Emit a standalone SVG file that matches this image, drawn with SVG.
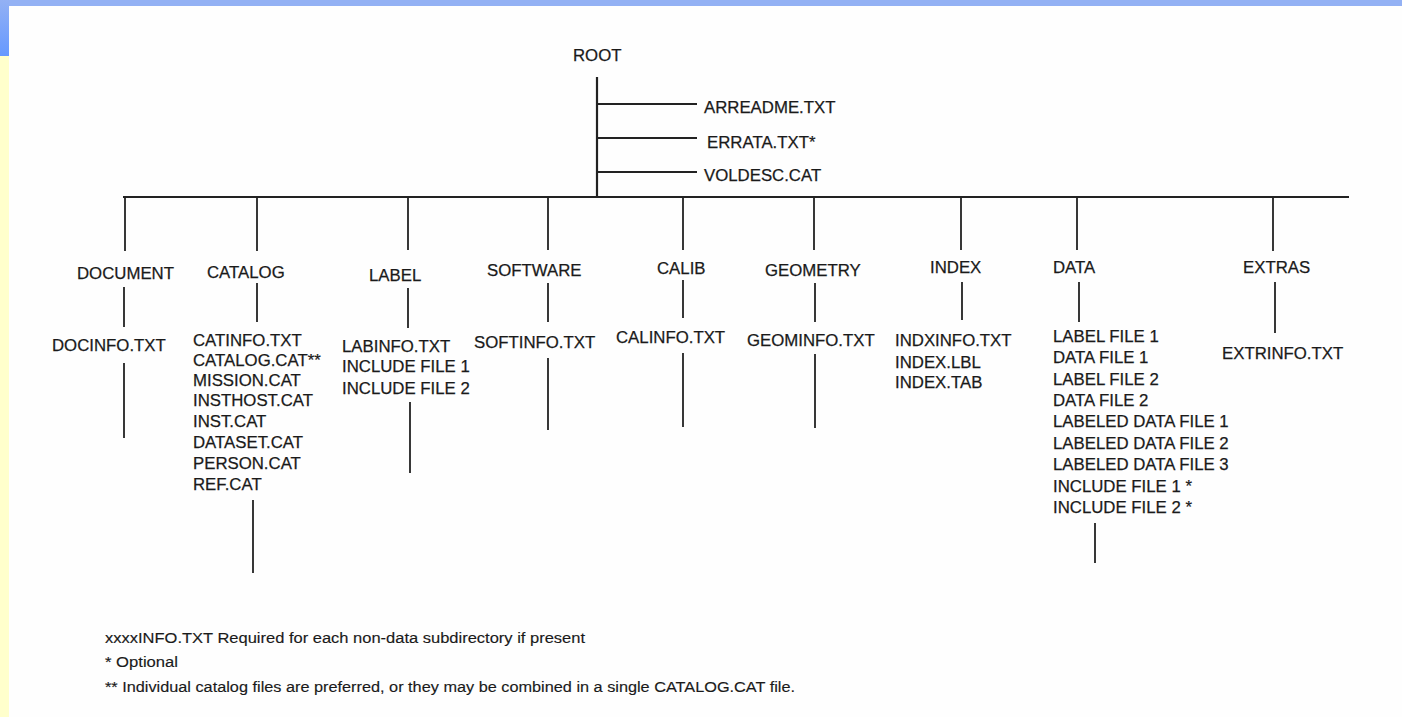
<svg xmlns="http://www.w3.org/2000/svg" width="1402" height="717" viewBox="0 0 1402 717">
<defs>
<linearGradient id="lb" x1="0" y1="0" x2="0" y2="1">
<stop offset="0" stop-color="#93b1f4"/>
<stop offset="1" stop-color="#6699ff"/>
</linearGradient>
<style>
text{font-family:"Liberation Sans",Arial,sans-serif;font-size:16.8px;fill:#1a1a1a;stroke:#1a1a1a;stroke-width:0.25}
.fn{font-size:15.5px;stroke-width:0.15}
line{stroke:#222;stroke-width:1.8;fill:none}
.main{stroke-width:2.2}
</style>
</defs>
<rect x="0" y="0" width="1402" height="717" fill="#fefefe"/>
<rect x="0" y="0" width="1402" height="6" fill="#93b1f4"/>
<rect x="0" y="0" width="9" height="56" fill="url(#lb)"/>
<rect x="0" y="56" width="9" height="661" fill="#ffffcc"/>

<g id="connectors">
<line class="main" x1="597" y1="77" x2="597" y2="198"/>
<line x1="597" y1="104" x2="697" y2="104"/>
<line x1="597" y1="138" x2="697" y2="138"/>
<line x1="597" y1="172" x2="697" y2="172"/>
<line class="main" x1="123" y1="197" x2="1349" y2="197"/>
<line x1="125" y1="197" x2="125" y2="251"/>
<line x1="257" y1="197" x2="257" y2="251"/>
<line x1="408" y1="197" x2="408" y2="250"/>
<line x1="548" y1="197" x2="548" y2="250"/>
<line x1="683" y1="197" x2="683" y2="250"/>
<line x1="814" y1="197" x2="814" y2="250"/>
<line x1="961" y1="197" x2="961" y2="250"/>
<line x1="1077" y1="197" x2="1077" y2="250"/>
<line x1="1273" y1="197" x2="1273" y2="251"/>
<line x1="124" y1="287" x2="124" y2="327"/>
<line x1="257" y1="283" x2="257" y2="322"/>
<line x1="408" y1="288" x2="408" y2="328"/>
<line x1="548" y1="283" x2="548" y2="322"/>
<line x1="683" y1="280" x2="683" y2="318"/>
<line x1="815" y1="283" x2="815" y2="322"/>
<line x1="962" y1="282" x2="962" y2="320"/>
<line x1="1079" y1="282" x2="1079" y2="322"/>
<line x1="1275" y1="282" x2="1275" y2="333"/>
<line x1="124" y1="363" x2="124" y2="438"/>
<line x1="253" y1="500" x2="253" y2="573"/>
<line x1="410" y1="402" x2="410" y2="473"/>
<line x1="548" y1="358" x2="548" y2="430"/>
<line x1="683" y1="353" x2="683" y2="427"/>
<line x1="815" y1="354" x2="815" y2="428"/>
<line x1="1095" y1="523" x2="1095" y2="563"/>
</g>

<g id="root"><text x="573" y="61">ROOT</text></g>
<g id="arreadme"><text x="704" y="113">ARREADME.TXT</text></g>
<g id="errata"><text x="707" y="148">ERRATA.TXT*</text></g>
<g id="voldesc"><text x="704" y="181">VOLDESC.CAT</text></g>

<g id="document"><text x="77" y="279">DOCUMENT</text></g>
<g id="docinfo"><text x="52" y="351">DOCINFO.TXT</text></g>

<g id="catalog"><text x="207" y="278">CATALOG</text></g>
<g id="catalog-files">
<text x="193" y="346">CATINFO.TXT</text>
<text x="193" y="366">CATALOG.CAT**</text>
<text x="193" y="386">MISSION.CAT</text>
<text x="193" y="406">INSTHOST.CAT</text>
<text x="193" y="427">INST.CAT</text>
<text x="193" y="448">DATASET.CAT</text>
<text x="193" y="469">PERSON.CAT</text>
<text x="193" y="490">REF.CAT</text>
</g>

<g id="label"><text x="369" y="281">LABEL</text></g>
<g id="label-files">
<text x="342" y="352">LABINFO.TXT</text>
<text x="342" y="372">INCLUDE FILE 1</text>
<text x="342" y="394">INCLUDE FILE 2</text>
</g>

<g id="software"><text x="487" y="276">SOFTWARE</text></g>
<g id="softinfo"><text x="474" y="348">SOFTINFO.TXT</text></g>

<g id="calib"><text x="657" y="274">CALIB</text></g>
<g id="calinfo"><text x="616" y="343">CALINFO.TXT</text></g>

<g id="geometry"><text x="765" y="276">GEOMETRY</text></g>
<g id="geominfo"><text x="747" y="346">GEOMINFO.TXT</text></g>

<g id="index"><text x="930" y="273">INDEX</text></g>
<g id="index-files">
<text x="895" y="346">INDXINFO.TXT</text>
<text x="895" y="368">INDEX.LBL</text>
<text x="895" y="388">INDEX.TAB</text>
</g>

<g id="data"><text x="1053" y="273">DATA</text></g>
<g id="data-files">
<text x="1053" y="342">LABEL FILE 1</text>
<text x="1053" y="363">DATA FILE 1</text>
<text x="1053" y="385">LABEL FILE 2</text>
<text x="1053" y="406">DATA FILE 2</text>
<text x="1053" y="427">LABELED DATA FILE 1</text>
<text x="1053" y="449">LABELED DATA FILE 2</text>
<text x="1053" y="470">LABELED DATA FILE 3</text>
<text x="1053" y="492">INCLUDE FILE 1 *</text>
<text x="1053" y="513">INCLUDE FILE 2 *</text>
</g>

<g id="extras"><text x="1243" y="273">EXTRAS</text></g>
<g id="extrinfo"><text x="1222" y="359">EXTRINFO.TXT</text></g>

<g id="footnotes">
<text class="fn" x="105" y="643" textLength="480" lengthAdjust="spacingAndGlyphs">xxxxINFO.TXT Required for each non-data subdirectory if present</text>
<text class="fn" x="105" y="667" textLength="73" lengthAdjust="spacingAndGlyphs">* Optional</text>
<text class="fn" x="105" y="692" textLength="690" lengthAdjust="spacingAndGlyphs">** Individual catalog files are preferred, or they may be combined in a single CATALOG.CAT file.</text>
</g>
</svg>
